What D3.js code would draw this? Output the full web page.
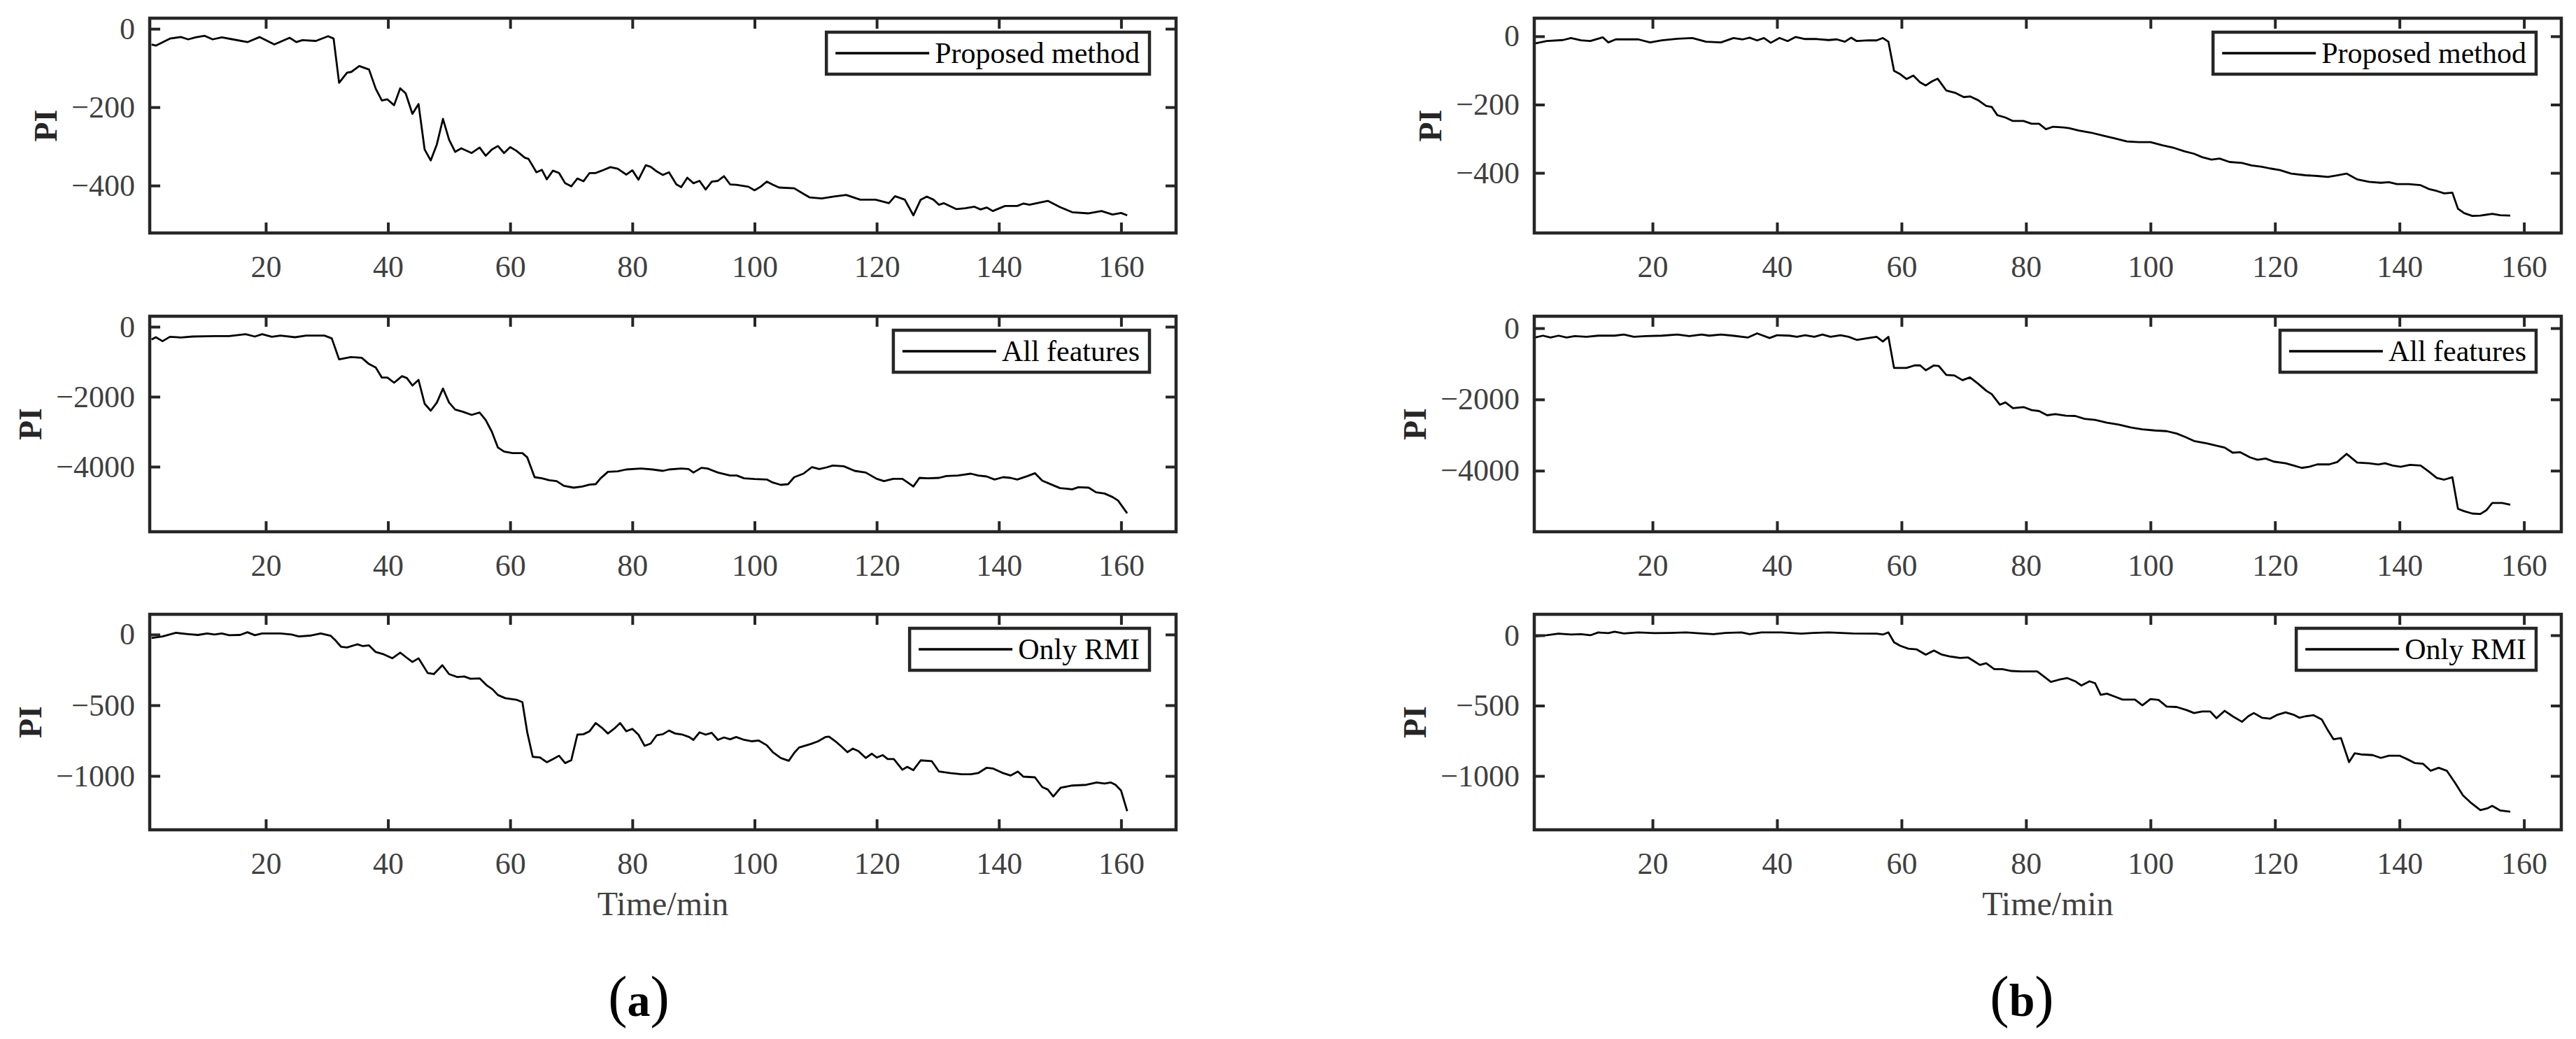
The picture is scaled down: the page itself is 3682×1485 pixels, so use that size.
<!DOCTYPE html>
<html><head><meta charset="utf-8">
<script src="https://cdn.jsdelivr.net/npm/d3@7"></script>
<style>body{margin:0;background:#fff}</style>
</head><body>
<svg id="c" width="3682" height="1485" xmlns="http://www.w3.org/2000/svg"></svg>
<script>
// ---------------- data ----------------
const xTicks = [20, 40, 60, 80, 100, 120, 140, 160];
const yTicksRow = [[0, -200, -400], [0, -2000, -4000], [0, -500, -1000]];
const legendNames = ["Proposed method", "All features", "Only RMI"];
const panelLabels = ["a", "b"];
const xLabel = "Time/min";
const yLabel = "PI";

// (a) series : [time (min), PI]
const proposedA = [[1.3,-40],[2,-43],[4.3,-25],[6.1,-21],[7.3,-27],[8.5,-22],[10,-18],[11.3,-27],[12.8,-22],[14.6,-27],[17,-34],[19,-21],[21.4,-40],[23.9,-23],[25,-34],[26,-29],[28.2,-31],[30.2,-19],[31.1,-25],[32,-138],[33.3,-112],[34,-110],[35.3,-95],[36.9,-104],[38,-153],[39,-183],[39.9,-180],[41,-195],[42,-152],[42.9,-165],[44,-217],[45,-192],[46,-308],[47,-336],[48,-295],[49,-230],[50,-283],[51,-314],[52,-305],[53.7,-317],[55,-303],[56,-324],[57,-308],[58,-299],[59,-317],[60,-302],[61,-311],[62.4,-329],[63,-332],[64.3,-366],[65.2,-360],[66,-384],[67,-362],[68,-368],[69,-394],[70,-402],[71,-382],[72,-389],[73,-368],[74,-368],[75,-362],[76.4,-353],[77.6,-357],[79,-372],[80,-361],[81,-385],[82.2,-348],[83,-352],[84,-364],[85,-373],[86,-366],[87.2,-397],[88,-404],[89,-380],[90,-394],[91,-388],[92,-410],[93,-390],[94,-388],[95,-376],[96,-397],[97,-398],[99,-403],[100,-412],[101,-403],[102,-390],[103,-398],[104,-405],[106.5,-407],[108,-421],[109,-430],[111,-433],[113,-428],[115,-424],[117.3,-436],[119.8,-436],[122,-445],[123,-427],[124.6,-436],[126,-476],[127.2,-436],[128.2,-428],[129.3,-436],[130.2,-449],[131,-445],[133,-460],[134.5,-458],[136,-454],[137,-461],[138,-456],[139,-465],[141,-452],[143,-452],[144,-446],[145,-449],[148,-439],[150,-455],[152,-468],[154.7,-471],[156.8,-465],[158.6,-474],[160,-470],[161,-476]];

const allA = [[1.3,-367],[2,-300],[3.1,-413],[4.3,-287],[6.1,-307],[8,-280],[11.6,-267],[14,-267],[16.7,-213],[18.2,-280],[19.4,-213],[21,-287],[22.4,-253],[24.8,-300],[26.6,-253],[29.6,-253],[30.8,-333],[32,-933],[33.9,-867],[35.7,-887],[36.9,-1067],[38,-1167],[39,-1453],[39.9,-1453],[41,-1600],[42.3,-1413],[43.1,-1467],[44,-1680],[45,-1520],[46,-2200],[47,-2400],[48,-2167],[49,-1767],[50,-2167],[51,-2367],[52.3,-2433],[53.7,-2520],[55,-2453],[56,-2667],[57,-3000],[58,-3453],[59,-3567],[60.4,-3613],[62,-3613],[62.8,-3733],[64,-4300],[65.2,-4333],[66.4,-4387],[67.6,-4413],[68.8,-4547],[70.4,-4600],[71.8,-4567],[73,-4513],[74,-4500],[74.8,-4333],[76,-4147],[77.6,-4133],[79,-4080],[81.4,-4053],[83.3,-4080],[85,-4120],[86,-4080],[88,-4053],[89.2,-4067],[90,-4167],[91.3,-4033],[92.3,-4053],[94,-4167],[96,-4253],[97.1,-4253],[98.3,-4333],[100,-4353],[102,-4367],[103,-4453],[104.3,-4520],[105.5,-4500],[106.5,-4300],[108,-4200],[109.4,-4013],[110.6,-4067],[111.8,-4020],[112.8,-3967],[114.6,-3987],[116.4,-4120],[118.2,-4167],[120,-4347],[121.2,-4413],[122.7,-4347],[124.2,-4347],[125.2,-4467],[126,-4567],[127,-4320],[128.4,-4333],[130.2,-4320],[131.4,-4267],[133.3,-4253],[135.4,-4200],[136.6,-4253],[138,-4280],[139.3,-4367],[140.7,-4300],[141.9,-4320],[143,-4367],[144.7,-4267],[145.9,-4187],[147.1,-4400],[148.9,-4533],[150,-4613],[152,-4647],[153,-4587],[154.7,-4600],[155.9,-4733],[157.3,-4767],[158.6,-4867],[159.5,-4967],[161,-5333]];

const onlyA = [[1.3,-25],[3.1,-13],[5.3,12],[7.3,3],[8.9,-3],[10.4,7],[11.6,0],[12.8,7],[14,-5],[15.8,-3],[17,16],[18.2,-5],[19.4,8],[22.4,8],[24.2,0],[25.4,-13],[27.2,-8],[29,8],[30.6,-8],[31.4,-41],[32.3,-86],[33.3,-91],[35,-69],[35.9,-82],[36.9,-77],[38,-124],[39.3,-140],[40.7,-168],[42,-128],[43.1,-165],[44,-194],[45,-168],[46.5,-272],[47.5,-280],[48.9,-217],[50,-280],[51.3,-300],[52.5,-297],[53.5,-313],[55,-310],[56.1,-357],[57.1,-387],[58,-428],[59.2,-450],[61,-461],[62,-478],[62.8,-692],[63.7,-865],[64.9,-870],[66,-903],[67,-881],[68,-857],[69,-909],[70,-889],[71,-708],[72,-705],[73,-684],[74,-626],[75,-659],[76,-700],[77,-667],[78,-626],[79,-684],[80,-667],[81,-708],[82,-787],[83,-771],[84,-712],[85,-705],[86,-679],[87,-700],[88.2,-708],[89.3,-725],[90,-745],[91,-692],[92,-708],[93,-695],[94,-745],[95,-728],[96,-741],[97,-725],[98.3,-745],[99.5,-755],[100.7,-750],[102,-783],[103,-832],[104.3,-873],[105.6,-893],[106.5,-837],[107.3,-799],[109.2,-774],[110.4,-755],[111.6,-725],[112.2,-722],[113.4,-761],[114.2,-791],[115.2,-832],[116.1,-807],[117,-824],[118.2,-873],[119.2,-843],[120,-870],[121,-853],[121.8,-881],[122.8,-881],[124.2,-956],[125,-936],[126,-959],[127.2,-890],[129,-895],[130.2,-969],[132,-980],[133.9,-988],[135.4,-988],[136.6,-980],[138,-942],[139,-947],[140.5,-977],[141.9,-997],[143.1,-969],[144,-1005],[145.9,-1010],[147.1,-1079],[148,-1096],[148.9,-1145],[150.1,-1084],[152,-1068],[154.3,-1063],[156,-1046],[157.3,-1054],[158.3,-1046],[159.1,-1063],[160,-1104],[161,-1249]];

// (b) series
const proposedB = [[1.1,-21],[3,-14],[5.6,-11],[6.9,-5],[8.5,-12],[10,-14],[12,-3],[12.9,-18],[14.1,-9],[16.4,-9],[17.7,-9],[19.6,-18],[21.5,-12],[24,-7],[26.4,-5],[28.6,-16],[31,-18],[33,-5],[34.5,-9],[35.6,-4],[36.8,-12],[37.9,-5],[39,-19],[40.4,-5],[41.7,-14],[43,-2],[44.5,-8],[46.4,-8],[48.3,-11],[49.6,-9],[50.9,-16],[51.9,-4],[52.8,-14],[54.7,-12],[56,-12],[57,-5],[57.9,-16],[58.8,-101],[59.8,-111],[60.8,-125],[61.9,-115],[63,-135],[63.9,-144],[64.9,-132],[65.8,-124],[67.2,-159],[68.7,-166],[70,-178],[71,-176],[72.3,-187],[73.6,-204],[74.5,-207],[75.4,-231],[76.7,-238],[77.9,-248],[79.6,-248],[80.9,-256],[82.1,-256],[83.2,-272],[84.3,-265],[86,-267],[86.9,-269],[88.5,-276],[90.4,-282],[92.4,-291],[94.3,-299],[96.2,-308],[98.1,-310],[100,-310],[101.9,-319],[103.8,-327],[105.5,-337],[107,-344],[108.3,-354],[109.8,-361],[111.1,-358],[112.7,-368],[114.7,-371],[116.2,-378],[117.9,-382],[119.2,-387],[120.8,-392],[122.6,-402],[124.9,-407],[126.8,-409],[128.5,-412],[130,-407],[131.5,-402],[133.2,-419],[135.1,-426],[137,-429],[138.3,-427],[139.6,-433],[141.5,-433],[143.4,-436],[144.7,-447],[146,-453],[147.2,-460],[148.5,-458],[149.4,-505],[150.4,-518],[151.7,-526],[153,-525],[154.9,-520],[156.2,-524],[157.8,-525]];

const allB = [[1.1,-263],[2.4,-210],[3.6,-263],[4.9,-210],[6.2,-263],[7.5,-223],[9.4,-243],[11.3,-210],[13.9,-210],[15.4,-177],[17,-243],[18.9,-223],[21.5,-210],[24,-177],[25.9,-223],[27.9,-177],[29.1,-210],[31,-177],[32.9,-210],[35.3,-263],[36.8,-145],[38.8,-276],[40,-197],[42,-210],[43.2,-243],[44.5,-197],[46,-243],[47.3,-177],[48.6,-243],[50.2,-197],[51.5,-243],[52.8,-329],[54.7,-276],[56,-243],[57,-375],[57.9,-243],[58.8,-1117],[60.8,-1117],[62.1,-1045],[63,-1045],[63.9,-1183],[65.2,-1045],[66,-1064],[67.2,-1314],[68.5,-1327],[69.8,-1459],[71,-1380],[72.3,-1557],[73.6,-1754],[74.5,-1853],[75.8,-2148],[76.7,-2083],[77.9,-2247],[79.6,-2214],[80.9,-2300],[82.1,-2326],[83.4,-2444],[84.7,-2411],[86.4,-2457],[87.9,-2464],[89.4,-2543],[91.1,-2575],[93,-2654],[94.9,-2707],[96.8,-2786],[98.7,-2838],[100.7,-2871],[102.6,-2891],[104.2,-2957],[105.5,-3048],[107,-3167],[109,-3232],[110.9,-3311],[111.9,-3351],[113.2,-3495],[114.4,-3482],[116,-3627],[117.2,-3692],[118.5,-3659],[119.8,-3745],[121.7,-3791],[123,-3857],[124.3,-3922],[125.5,-3889],[126.8,-3824],[128.7,-3824],[130,-3758],[131.5,-3528],[133.2,-3771],[135.1,-3791],[136.6,-3824],[137.7,-3791],[138.9,-3857],[140.2,-3889],[141.7,-3837],[143.4,-3857],[144.7,-4021],[146,-4205],[147.2,-4251],[148.5,-4185],[149.4,-5072],[150.4,-5138],[151.7,-5203],[153,-5217],[154,-5105],[154.9,-4908],[156.5,-4908],[157.8,-4954]];

const onlyB = [[1.1,-8],[3,0],[4.9,12],[6.9,5],[8.5,8],[10,0],[11.3,20],[12.9,15],[13.9,25],[15.4,13],[17.7,20],[20.3,15],[22.8,17],[25.4,20],[27.9,13],[29.8,8],[31.7,17],[34.3,20],[35.6,8],[37.5,20],[40.7,20],[43.9,12],[45.8,17],[48.3,20],[52.2,13],[56,12],[57,5],[57.9,20],[58.8,-50],[59.8,-75],[61.1,-95],[62.4,-100],[63.9,-138],[65.2,-108],[66.5,-138],[67.7,-150],[69.4,-161],[70.7,-158],[71.6,-183],[72.6,-211],[73.6,-199],[74.9,-241],[76.2,-241],[77.7,-254],[79.2,-257],[80.9,-257],[81.8,-257],[82.8,-291],[84,-332],[85.3,-316],[86.6,-304],[87.9,-327],[88.9,-357],[90.2,-327],[91.1,-341],[92,-424],[93,-415],[94.3,-437],[95.5,-457],[97.5,-457],[98.7,-498],[100,-453],[101.3,-460],[102.6,-507],[104.2,-510],[105.8,-532],[107,-553],[108.3,-542],[109.6,-542],[110.6,-590],[111.9,-537],[113.2,-576],[114.7,-615],[115.7,-576],[116.6,-553],[117.9,-586],[119.2,-593],[120.4,-565],[121.7,-548],[123,-565],[123.9,-586],[124.9,-576],[126.2,-568],[127.5,-598],[128.5,-676],[129.4,-739],[130.6,-731],[131.9,-902],[132.8,-839],[133.8,-847],[135.7,-852],[137,-872],[138.3,-856],[140,-856],[141.2,-880],[142.5,-909],[143.8,-914],[145,-963],[146.3,-942],[147.6,-963],[148.9,-1047],[150.2,-1138],[151.4,-1188],[153,-1243],[154.2,-1229],[154.9,-1213],[156.2,-1246],[157.8,-1254]];

const seriesA = [proposedA, allA, onlyA];
const seriesB = [proposedB, allB, onlyB];
const xDomainA = [1, 169];
const xDomainB = [1, 166];
const yDomainsA = [[-521, 27], [-5860, 300], [-1381, 143]];
const yDomainsB = [[-576, 53], [-5714, 335], [-1383, 149]];

// ---------------- layout ----------------
const columns = [
  {left: 214, right: 1681, xDomain: xDomainA, yDomains: yDomainsA, series: seriesA, legendGap: 38, labelX: 913},
  {left: 2193, right: 3661, xDomain: xDomainB, yDomains: yDomainsB, series: seriesB, legendGap: 36, labelX: 2890}
];
const rows = [{top: 26, bottom: 333}, {top: 452, bottom: 760}, {top: 878, bottom: 1186}];

const AXIS = "#262626", LABEL = "#404040";
const FONT = "'Liberation Serif', 'Times New Roman', serif";
const svg = d3.select("#c");
svg.append("rect").attr("width", 3682).attr("height", 1485).attr("fill", "#fff");

const fmt = d => d < 0 ? "\u2212" + Math.abs(d) : String(d);

columns.forEach((col, ci) => {
  rows.forEach((row, ri) => {
    const x = d3.scaleLinear().domain(col.xDomain).range([col.left, col.right]);
    const y = d3.scaleLinear().domain(col.yDomains[ri]).range([row.bottom, row.top]);
    const g = svg.append("g");

    // data line
    g.append("path")
      .datum(col.series[ri])
      .attr("fill", "none").attr("stroke", "#000").attr("stroke-width", 2.8)
      .attr("stroke-linejoin", "round")
      .attr("d", d3.line().x(d => x(d[0])).y(d => y(d[1])));

    const style = (sel, labels) => {
      sel.select(".domain").remove();
      sel.selectAll(".tick line").attr("stroke", AXIS).attr("stroke-width", 4);
      sel.selectAll(".tick text").attr("fill", LABEL).style("font-family", FONT).style("font-size", "44px");
      if (!labels) sel.selectAll(".tick text").remove();
    };
    // bottom axis
    const gb = g.append("g").attr("transform", `translate(0,${row.bottom})`)
      .call(d3.axisBottom(x).tickValues(xTicks).tickSizeInner(-15).tickSizeOuter(0).tickPadding(32).tickFormat(fmt));
    style(gb, true);
    const gt = g.append("g").attr("transform", `translate(0,${row.top})`)
      .call(d3.axisTop(x).tickValues(xTicks).tickSizeInner(-15).tickSizeOuter(0));
    style(gt, false);
    const gl = g.append("g").attr("transform", `translate(${col.left},0)`)
      .call(d3.axisLeft(y).tickValues(yTicksRow[ri]).tickSizeInner(-15).tickSizeOuter(0).tickPadding(21).tickFormat(fmt));
    style(gl, true);
    const gr = g.append("g").attr("transform", `translate(${col.right},0)`)
      .call(d3.axisRight(y).tickValues(yTicksRow[ri]).tickSizeInner(-15).tickSizeOuter(0));
    style(gr, false);

    // box
    g.append("rect").attr("x", col.left).attr("y", row.top)
      .attr("width", col.right - col.left).attr("height", row.bottom - row.top)
      .attr("fill", "none").attr("stroke", AXIS).attr("stroke-width", 4.5);

    // y label
    let minX = Infinity;
    gl.selectAll(".tick text").each(function () {
      const b = this.getBBox();
      const t = this.parentNode.transform.baseVal.consolidate();
      minX = Math.min(minX, col.left + b.x);
    });
    const ly = (row.top + row.bottom) / 2;
    g.append("text").text(yLabel)
      .attr("transform", `translate(${minX - 21},${ly}) rotate(-90)`)
      .attr("text-anchor", "middle").attr("fill", AXIS)
      .style("font-family", FONT).style("font-size", "46px").style("font-weight", "bold");

    // legend
    const lg = g.append("g");
    const boxRight = col.right - col.legendGap;
    const boxTop = row.top + 20, boxH = 60;
    const txt = lg.append("text").text(legendNames[ri])
      .attr("fill", "#000").style("font-family", FONT).style("font-size", "42px");
    const tw = txt.node().getComputedTextLength();
    const boxW = 13 + 134 + 8 + tw + 14;
    const boxLeft = boxRight - boxW;
    lg.insert("rect", "text").attr("x", boxLeft).attr("y", boxTop).attr("width", boxW).attr("height", boxH)
      .attr("fill", "#fff").attr("stroke", AXIS).attr("stroke-width", 4.5);
    lg.append("line").attr("x1", boxLeft + 13).attr("x2", boxLeft + 147)
      .attr("y1", boxTop + boxH / 2).attr("y2", boxTop + boxH / 2)
      .attr("stroke", "#000").attr("stroke-width", 3.5);
    txt.attr("x", boxLeft + 155).attr("y", boxTop + boxH / 2 + 14);
  });

  // x label
  svg.append("text").text(xLabel)
    .attr("x", (col.left + col.right) / 2).attr("y", 1308)
    .attr("text-anchor", "middle").attr("fill", LABEL)
    .style("font-family", FONT).style("font-size", "48px");

  // panel label
  const pl = svg.append("text").attr("x", col.labelX).attr("y", 1452)
    .attr("text-anchor", "middle").attr("fill", "#000").style("font-family", FONT);
  pl.append("tspan").text("(").style("font-size", "82px");
  pl.append("tspan").text(panelLabels[ci]).style("font-size", "66px").style("font-weight", "bold");
  pl.append("tspan").text(")").style("font-size", "82px");
});
</script>
</body></html>
